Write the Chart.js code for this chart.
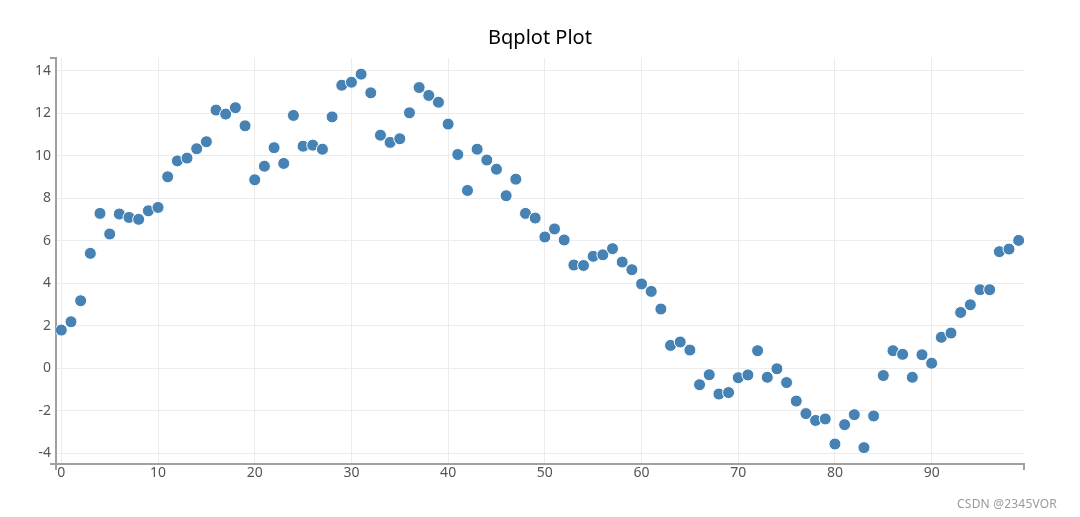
<!DOCTYPE html>
<html>
<head>
<meta charset="utf-8">
<script src="https://cdn.jsdelivr.net/npm/chart.js@4/dist/chart.umd.min.js"></script>
<style>
  html, body { margin: 0; padding: 0; background: #fff; }
  #wrap { position: relative; width: 1080px; height: 517px; }
  #mark { position: absolute; right: 23px; top: 495px; font: 12px "Noto Sans", "DejaVu Sans", sans-serif; color: #9a9a9a; letter-spacing: 0.2px; }
</style>
</head>
<body>
<div id="wrap">
  <canvas id="c" width="1080" height="517"></canvas>
  <div id="mark">CSDN @2345VOR</div>
</div>
<script>
const xValues = Array.from({length: 100}, (_, i) => i);
const yValues = [
  1.80, 2.19, 3.18, 5.41, 7.29, 6.32, 7.26, 7.10, 7.01, 7.41,
  7.57, 9.01, 9.76, 9.89, 10.33, 10.66, 12.15, 11.96, 12.26, 11.41,
  8.87, 9.51, 10.38, 9.64, 11.90, 10.45, 10.50, 10.31, 11.83, 13.32,
  13.46, 13.84, 12.96, 10.97, 10.63, 10.80, 12.02, 13.21, 12.84, 12.52,
  11.49, 10.06, 8.37, 10.31, 9.80, 9.37, 8.12, 8.90, 7.29, 7.07,
  6.18, 6.56, 6.04, 4.86, 4.84, 5.27, 5.34, 5.63, 5.00, 4.64,
  3.97, 3.62, 2.79, 1.08, 1.24, 0.86, -0.77, -0.30, -1.21, -1.14,
  -0.44, -0.31, 0.83, -0.42, -0.02, -0.67, -1.54, -2.13, -2.45, -2.38,
  -3.56, -2.65, -2.18, -3.73, -2.24, -0.34, 0.83, 0.66, -0.42, 0.64,
  0.24, 1.46, 1.66, 2.63, 2.99, 3.70, 3.70, 5.49, 5.61, 6.02
];
const xTicks = [0, 10, 20, 30, 40, 50, 60, 70, 80, 90];
const yTicks = [-4, -2, 0, 2, 4, 6, 8, 10, 12, 14];
const titleText = 'Bqplot Plot';

const points = xValues.map((x, i) => ({x: x, y: yValues[i]}));

const outerTicks = {
  id: 'outerTicks',
  afterDraw(chart) {
    const {ctx, chartArea: a} = chart;
    ctx.save();
    ctx.strokeStyle = '#a0a0a0';
    ctx.lineWidth = 2;
    ctx.beginPath();
    ctx.moveTo(a.left, a.top); ctx.lineTo(a.left - 6, a.top);
    ctx.moveTo(a.left, a.bottom); ctx.lineTo(a.left - 6, a.bottom);
    ctx.moveTo(a.left, a.bottom); ctx.lineTo(a.left, a.bottom + 6);
    ctx.moveTo(a.right, a.bottom); ctx.lineTo(a.right, a.bottom + 6);
    ctx.stroke();
    ctx.restore();
  }
};

new Chart(document.getElementById('c'), {
  type: 'scatter',
  data: {
    datasets: [{
      data: points,
      backgroundColor: '#4682b4',
      borderColor: '#ffffff',
      borderWidth: 1,
      pointRadius: 6,
      pointHoverRadius: 6
    }]
  },
  options: {
    responsive: false,
    animation: false,
    events: [],
    layout: { padding: { left: 0, right: 56, top: 0, bottom: 0 } },
    plugins: {
      legend: { display: false },
      tooltip: { enabled: false },
      title: {
        display: true,
        text: titleText,
        fullSize: false,
        color: '#000',
        font: { family: '"Noto Sans", "Open Sans", sans-serif', size: 20, weight: 'normal', lineHeight: 1.2 },
        padding: { top: 26, bottom: 8 }
      }
    },
    scales: {
      x: {
        type: 'linear',
        min: -0.55,
        max: 99.55,
        afterFit: (s) => { s.height = 53; },
        afterBuildTicks: (s) => { s.ticks = xTicks.map(v => ({value: v})); },
        ticks: {
          color: '#555',
          padding: 1,
          font: { family: '"Noto Sans", sans-serif', size: 14 }
        },
        grid: { color: '#ececec', lineWidth: 1, drawTicks: false },
        border: { display: true, color: '#a0a0a0', width: 2 }
      },
      y: {
        type: 'linear',
        min: -4.5,
        max: 14.6,
        afterFit: (s) => { s.width = 56; },
        afterBuildTicks: (s) => { s.ticks = yTicks.map(v => ({value: v})); },
        ticks: {
          color: '#555',
          padding: 5,
          font: { family: '"Noto Sans", sans-serif', size: 14 }
        },
        grid: { color: '#ececec', lineWidth: 1, drawTicks: false },
        border: { display: true, color: '#a0a0a0', width: 2 }
      }
    }
  },
  plugins: [outerTicks]
});
</script>
</body>
</html>
